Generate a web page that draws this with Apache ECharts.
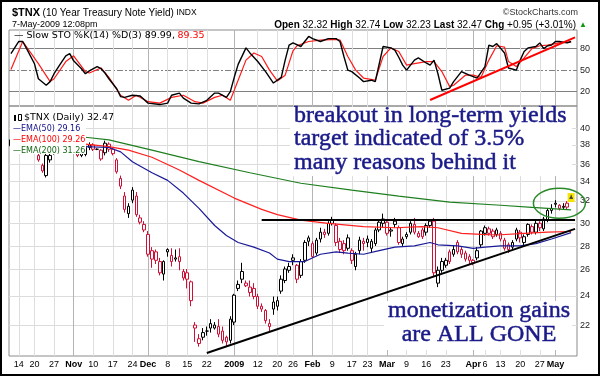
<!DOCTYPE html>
<html>
<head>
<meta charset="utf-8">
<script src="https://cdn.jsdelivr.net/npm/echarts@6.0.0/dist/echarts.min.js"></script>
<style>
html, body { margin: 0; padding: 0; background: #fff; }
#chart { width: 600px; height: 376px; }
</style>
</head>
<body>
<div id="chart"></div>
<script>
// trading days shown on the chart
var dates = [
  '2008-10-10','2008-10-13','2008-10-14','2008-10-15','2008-10-16','2008-10-17','2008-10-20','2008-10-21','2008-10-22','2008-10-23','2008-10-24','2008-10-27','2008-10-28','2008-10-29','2008-10-30','2008-10-31',
  '2008-11-03','2008-11-04','2008-11-05','2008-11-06','2008-11-07','2008-11-10','2008-11-11','2008-11-12','2008-11-13','2008-11-14','2008-11-17','2008-11-18','2008-11-19','2008-11-20','2008-11-21','2008-11-24','2008-11-25','2008-11-26','2008-11-28',
  '2008-12-01','2008-12-02','2008-12-03','2008-12-04','2008-12-05','2008-12-08','2008-12-09','2008-12-10','2008-12-11','2008-12-12','2008-12-15','2008-12-16','2008-12-17','2008-12-18','2008-12-19','2008-12-22','2008-12-23','2008-12-24','2008-12-26','2008-12-29','2008-12-30','2008-12-31',
  '2009-01-02','2009-01-05','2009-01-06','2009-01-07','2009-01-08','2009-01-09','2009-01-12','2009-01-13','2009-01-14','2009-01-15','2009-01-16','2009-01-20','2009-01-21','2009-01-22','2009-01-23','2009-01-26','2009-01-27','2009-01-28','2009-01-29','2009-01-30',
  '2009-02-02','2009-02-03','2009-02-04','2009-02-05','2009-02-06','2009-02-09','2009-02-10','2009-02-11','2009-02-12','2009-02-13','2009-02-17','2009-02-18','2009-02-19','2009-02-20','2009-02-23','2009-02-24','2009-02-25','2009-02-26','2009-02-27',
  '2009-03-02','2009-03-03','2009-03-04','2009-03-05','2009-03-06','2009-03-09','2009-03-10','2009-03-11','2009-03-12','2009-03-13','2009-03-16','2009-03-17','2009-03-18','2009-03-19','2009-03-20','2009-03-23','2009-03-24','2009-03-25','2009-03-26','2009-03-27','2009-03-30','2009-03-31',
  '2009-04-01','2009-04-02','2009-04-03','2009-04-06','2009-04-07','2009-04-08','2009-04-09','2009-04-13','2009-04-14','2009-04-15','2009-04-16','2009-04-17','2009-04-20','2009-04-21','2009-04-22','2009-04-23','2009-04-24','2009-04-27','2009-04-28','2009-04-29','2009-04-30',
  '2009-05-01','2009-05-04','2009-05-05','2009-05-06','2009-05-07'
];

// [open, close, low, high], one per day
var ohlc = [
  [38.0,38.7,37.4,39.2],[38.7,38.7,38.6,38.8],[39.2,40.3,39.0,40.8],[40.3,39.7,39.2,40.5],[39.5,39.9,38.8,40.2],[39.9,39.2,38.9,40.1],
  [38.9,37.4,37.2,39.1],[36.9,36.4,36.2,37.3],[35.8,35.2,35.0,36.0],[34.7,36.9,34.5,37.1],[36.4,36.9,36.1,37.4],[37.3,37.8,37.0,38.2],
  [37.8,38.8,37.6,39.0],[38.8,39.3,38.5,39.7],[39.3,39.7,39.0,40.1],[39.8,39.4,39.1,40.0],
  [39.4,38.9,38.5,39.6],[37.4,36.9,36.7,37.8],[36.9,37.5,36.7,37.8],[37.0,37.8,36.8,38.1],[37.8,38.1,37.5,38.4],[38.1,37.6,37.4,38.3],
  [37.6,37.6,37.5,37.7],[37.5,36.5,36.3,37.6],[37.2,38.3,36.9,38.6],[38.2,37.6,37.3,38.4],[37.6,37.1,36.9,37.8],[36.4,35.1,34.9,36.6],
  [34.4,33.6,33.3,34.7],[32.6,31.3,31.0,33.0],[30.9,31.6,30.5,31.9],[32.2,33.2,31.9,33.5],[32.6,30.8,30.6,33.0],[30.5,30.1,29.9,30.8],
  [29.9,29.4,29.2,30.2],
  [29.0,27.3,27.1,29.3],[27.6,26.9,26.2,27.9],[27.5,26.8,26.5,27.7],[26.7,25.8,25.6,27.0],[25.7,26.7,25.2,26.8],[27.7,27.5,27.1,27.8],
  [27.2,26.7,26.3,27.8],[27.0,26.9,26.7,27.7],[27.1,26.7,26.0,27.8],[25.4,25.9,25.2,26.1],[25.8,25.3,24.6,26.1],[25.1,23.7,23.3,25.2],
  [21.8,22.0,20.9,22.2],[21.1,20.8,20.6,21.4],[21.2,21.5,21.0,21.8],[21.6,21.6,21.3,21.9],[22.1,21.8,21.5,22.4],[21.8,22.0,21.7,22.2],
  [21.9,21.4,21.2,22.4],[21.6,21.0,20.8,21.9],[21.2,20.9,20.6,21.3],[21.0,22.4,20.8,22.6],
  [22.2,24.1,22.0,24.2],[24.6,24.9,24.4,25.2],[25.9,25.3,25.0,26.6],[24.8,25.0,24.7,25.2],[24.7,24.3,24.0,25.2],[24.6,24.0,23.8,25.0],
  [24.0,23.3,23.1,24.2],[23.3,23.1,22.9,23.5],[23.0,22.3,22.1,23.1],[21.9,22.1,21.6,22.4],[23.6,23.1,22.7,24.0],[23.3,23.7,23.0,24.0],
  [24.4,25.3,24.2,25.6],[25.2,26.1,25.0,26.3],[26.0,26.3,25.8,26.6],[27.0,26.8,26.4,27.3],[26.4,25.3,25.0,26.5],[25.6,26.7,25.4,26.9],
  [26.8,28.3,26.6,28.5],[28.7,28.4,28.0,28.9],
  [28.2,27.1,27.0,28.4],[27.4,28.5,27.2,28.7],[28.6,29.2,28.3,29.6],[29.2,29.0,28.7,29.5],[29.1,30.0,28.9,30.2],[30.0,30.3,29.8,30.6],
  [29.8,28.3,28.0,30.0],[28.4,27.7,27.4,28.7],[28.2,27.6,27.3,28.5],[27.8,28.7,27.6,29.0],[27.6,26.8,26.5,27.8],[26.3,27.3,26.0,27.5],
  [27.6,28.5,27.3,28.8],[28.4,28.2,27.6,28.7],[28.6,28.3,27.9,28.9],[27.8,28.4,27.4,28.6],[28.2,29.4,28.0,29.6],[29.4,30.1,29.2,30.4],
  [30.0,30.4,29.6,30.9],
  [30.1,29.1,28.9,30.2],[29.4,29.3,28.8,29.6],[29.9,30.2,29.6,30.5],[29.6,28.3,28.1,29.8],[28.2,28.6,28.0,28.8],[28.8,29.0,28.6,29.2],
  [29.2,30.0,29.0,30.2],[29.9,29.2,29.0,30.5],[28.8,29.1,28.7,29.3],[29.4,28.8,28.6,29.6],[29.2,29.8,28.9,30.0],[29.8,30.2,29.6,30.4],
  [30.2,25.8,25.5,30.5],[25.0,26.0,24.7,26.3],[26.0,26.7,25.8,27.0],[26.4,26.8,26.2,27.0],[27.5,26.7,26.5,27.7],[27.3,27.7,27.1,28.0],
  [28.3,27.5,27.3,28.5],[27.7,27.3,27.0,27.9],[27.4,26.9,26.7,27.6],[27.1,26.8,26.5,27.3],
  [26.8,26.6,26.4,26.9],[27.0,27.6,26.8,27.9],[28.1,29.3,27.9,29.4],[29.1,29.6,28.9,29.8],[29.5,29.1,28.9,29.7],[29.3,28.8,28.6,29.5],
  [29.0,29.4,28.8,29.6],[29.1,28.6,28.4,29.3],[28.5,27.8,27.6,28.7],[28.1,27.7,27.4,28.3],[27.9,28.3,27.7,28.5],[28.6,29.4,28.4,29.6],
  [29.2,28.7,28.3,29.4],[28.3,28.8,28.0,29.0],[29.0,29.9,28.8,30.0],[29.7,29.2,29.0,29.9],[29.2,30.0,29.0,30.3],[30.0,29.6,29.3,30.2],
  [29.5,30.4,29.3,30.6],[30.3,31.2,30.1,31.4],[31.2,31.4,30.9,31.8],
  [31.9,31.8,31.5,32.2],[31.7,31.4,31.2,31.8],[31.5,31.6,31.3,31.9],[31.9,31.52,31.3,32.1],[32.32,32.47,32.23,32.74]
];

// moving averages: [day index, value]
var ema50 = [[19,37.9],[25,37.8],[28,37.3],[31,36.2],[36,35.0],[40,34.2],[44,32.9],[48,31.4],[52,29.8],[55,28.9],[58,28.3],
  [62,27.9],[66,27.4],[68,26.9],[71,26.7],[75,26.7],[79,27.3],[83,27.5],[86,27.4],[90,27.3],[94,27.6],[98,27.9],[103,28.0],
  [107,28.3],[109,28.1],[114,28.0],[118,27.8],[121,27.9],[125,28.0],[130,28.0],[134,28.2],[138,28.6],[143,29.16]];
var ema100 = [[19,38.2],[25,37.9],[30,37.5],[36,36.7],[43,35.3],[48,34.2],[57,32.4],[64,31.3],[68,30.8],[74,30.3],[81,30.0],
  [90,29.7],[98,29.6],[105,29.7],[109,29.6],[115,29.1],[120,29.0],[124,28.95],[131,29.1],[137,29.2],[143,29.26]];
var ema200 = [[19,39.0],[25,38.7],[36,37.5],[48,36.2],[61,35.0],[74,33.9],[87,33.2],[99,32.6],[112,32.0],[125,31.7],[133,31.5],[143,31.26]];

// slow stochastics
var stoK = [[0,73],[2,90],[3,90],[4,80],[6,59],[7,38],[9,29],[10,34],[11,45],[13,62],[14,70],[15,73],[16,63],[18,52],[19,45],
  [20,49],[22,55],[23,52],[24,46],[25,38],[27,24],[28,13],[29,12],[31,15],[33,14],[35,4],[38,2],[40,4],[41,15],[43,18],[44,11],
  [46,4],[48,3],[50,8],[52,18],[53,18],[55,12],[56,20],[57,40],[58,58],[60,81],[61,74],[63,62],[65,48],[67,32],[69,40],[70,64],
  [71,85],[72,88],[74,83],[76,97],[77,94],[79,90],[81,94],[83,94],[84,90],[85,69],[86,50],[87,48],[89,39],[90,34],[92,36],[93,34],
  [95,83],[97,81],[98,78],[99,68],[100,57],[101,50],[103,64],[104,67],[106,60],[107,57],[108,64],[109,45],[110,22],[112,25],
  [113,34],[115,48],[117,43],[119,39],[121,55],[122,85],[123,83],[124,87],[126,74],[127,53],[129,50],[130,64],[131,76],[132,81],
  [134,83],[135,88],[136,80],[137,84],[138,85],[139,90],[140,90],[141,89],[142,88],[143,89.99]];
var stoD = [[0,51],[3,90],[7,59],[10,34],[11,38],[14,62],[16,70],[19,48],[20,46],[23,53],[25,40],[28,15],[30,8],[32,15],[35,6],
  [38,4],[41,12],[44,15],[47,6],[49,4],[52,12],[54,15],[56,8],[57,22],[60,64],[62,74],[64,69],[66,50],[68,35],[70,43],[72,77],
  [73,84],[76,90],[79,92],[83,93],[84,92],[86,69],[88,50],[90,39],[93,36],[95,69],[97,81],[99,76],[101,57],[103,59],[106,62],
  [108,62],[110,48],[112,27],[113,29],[116,43],[118,43],[120,40],[122,64],[124,84],[126,82],[127,62],[129,55],[131,67],[133,80],
  [135,84],[137,85],[140,88],[143,89.35]];

// axis ticks
var priceTicks = [22, 24, 26, 28, 30, 32, 34, 36, 38, 40];
var stoTicks = [20, 50, 80];
var tickDates = ['2008-10-14','2008-10-20','2008-10-27','2008-11-03','2008-11-10','2008-11-17','2008-11-24','2008-12-01','2008-12-08',
  '2008-12-15','2008-12-22','2009-01-02','2009-01-12','2009-01-20','2009-01-26','2009-02-02','2009-02-09','2009-02-17','2009-02-23',
  '2009-03-02','2009-03-09','2009-03-16','2009-03-23','2009-04-01','2009-04-06','2009-04-13','2009-04-20','2009-04-27','2009-05-01'];
var tickText = ['14','20','27','Nov','10','17','24','Dec','8','15','22','2009','12','20','26','Feb','9','17','23','Mar','9','16','23',
  'Apr','6','13','20','27','May'];

var RED = '#cc1036';
var SANS = '"Liberation Sans", Arial, sans-serif';
var VSANS = '"DejaVu Sans", Verdana, sans-serif';
var SERIF = '"Liberation Serif", "Times New Roman", serif';
var PMIN = 20.02, PMAX = 42.9;

var cats = dates.concat(['']);
var labelOf = {};
tickDates.forEach(function (d, k) { labelOf[d] = tickText[k]; });
function isMonth(t) { return !/^\d{1,2}$/.test(t); }

var candles = ohlc.map(function (d, i) {
  var prev = i > 0 ? ohlc[i - 1][1] : d[0];
  var c = d[1] >= prev ? '#000' : RED;
  return {
    value: [Math.log(d[0]), Math.log(d[1]), Math.log(d[2]), Math.log(d[3])],
    itemStyle: { color: '#fff', color0: c, borderColor: c, borderColor0: c, borderWidth: 1 }
  };
});
function logPts(arr) { return arr.map(function (p) { return [p[0], Math.log(p[1])]; }); }

var vLines = tickDates.map(function (d, k) {
  return { xAxis: dates.indexOf(d), label: { show: false },
    lineStyle: { color: isMonth(tickText[k]) ? '#b4b4b4' : '#dedede', width: 1, type: 'solid' } };
});
var yLab = { show: true, position: 'end', distance: 3, formatter: '{b}', color: '#222', fontSize: 9, fontFamily: SANS };
var priceGrid = priceTicks.map(function (v) {
  return { yAxis: Math.log(v), name: String(v), label: yLab, lineStyle: { color: '#dcdcdc', width: 1, type: 'solid' } };
}).concat(vLines);
var stoGrid = stoTicks.map(function (v) {
  return { yAxis: v, name: String(v), label: yLab,
    lineStyle: { color: '#808080', width: 1, type: v === 50 ? [6, 2, 2, 2] : 'solid' } };
}).concat(vLines);

var chart = echarts.init(document.getElementById('chart'));

var xBase = {
  type: 'category', data: cats, boundaryGap: true,
  axisLine: { show: false }, axisTick: { show: false }, splitLine: { show: false }
};

chart.setOption({
  animation: false,
  backgroundColor: '#fff',
  grid: [
    { left: 9, right: 23, top: 30, height: 76, show: true, borderColor: '#8c8c8c', borderWidth: 1, outerBoundsMode: 'none' },
    { left: 9, right: 23, top: 106, height: 250, show: true, borderColor: '#8c8c8c', borderWidth: 1, outerBoundsMode: 'none' }
  ],
  xAxis: [
    Object.assign({ gridIndex: 0, axisLabel: { show: false } }, xBase),
    Object.assign({ gridIndex: 1, axisLabel: {
      show: true, margin: 4, fontSize: 9, fontFamily: SANS, color: '#000',
      interval: function (i, v) { return labelOf[v] !== undefined; },
      formatter: function (v) { var t = labelOf[v]; if (t === undefined) return ''; return isMonth(t) ? '{b|' + t + '}' : t; },
      rich: { b: { fontWeight: 'bold', fontSize: 9, fontFamily: SANS, color: '#000' } }
    } }, xBase)
  ],
  yAxis: [
    { type: 'value', gridIndex: 0, min: 0, max: 106, show: false },
    { type: 'value', gridIndex: 1, min: Math.log(PMIN), max: Math.log(PMAX), show: false }
  ],
  series: [
    {
      type: 'line', name: '%D', xAxisIndex: 0, yAxisIndex: 0, data: stoD, symbol: 'none',
      lineStyle: { color: '#ff1a1a', width: 1.2 },
      markLine: { silent: true, symbol: 'none', z: 1, animation: false, data: stoGrid }
    },
    {
      type: 'line', name: '%K', xAxisIndex: 0, yAxisIndex: 0, data: stoK, symbol: 'none',
      lineStyle: { color: '#000', width: 1.4 },
      markLine: { silent: true, symbol: 'none', animation: false, label: { show: false },
        lineStyle: { color: '#ff0000', width: 2, type: 'solid' },
        data: [[{ coord: [107, 8.4] }, { coord: [144, 95.7] }]] }
    },
    {
      type: 'line', name: 'EMA200', xAxisIndex: 1, yAxisIndex: 1, data: logPts(ema200), symbol: 'none',
      lineStyle: { color: '#1f7f1f', width: 1.2 },
      markLine: { silent: true, symbol: 'none', z: 1, animation: false, data: priceGrid }
    },
    {
      type: 'line', name: 'EMA100', xAxisIndex: 1, yAxisIndex: 1, data: logPts(ema100), symbol: 'none',
      lineStyle: { color: '#ff2020', width: 1.2 }
    },
    {
      type: 'line', name: 'EMA50', xAxisIndex: 1, yAxisIndex: 1, data: logPts(ema50), symbol: 'none',
      lineStyle: { color: '#1a1a99', width: 1.2 }
    },
    {
      type: 'candlestick', name: '$TNX', xAxisIndex: 1, yAxisIndex: 1, data: candles, barWidth: 3,
      markLine: { silent: true, symbol: 'none', animation: false, label: { show: false },
        lineStyle: { color: '#000', width: 2, type: 'solid' },
        data: [
          [{ coord: [50, Math.log(20.2)] }, { coord: [144, Math.log(29.5)] }],
          [{ coord: [64, Math.log(30.3)] }, { coord: [144, Math.log(30.3)] }]
        ] },
      markPoint: { silent: true, animation: false, symbol: 'rect', symbolSize: [7, 9],
        itemStyle: { color: '#f4e400' },
        label: { show: true, formatter: '\u265F', fontSize: 6, color: '#444', fontFamily: VSANS },
        data: [{ coord: [143, Math.log(32.45)] }] }
    }
  ]
});

// annotation ring around the breakout
var ring = chart.convertToPixel({ gridIndex: 1 }, [140, Math.log(31.9)]);

function txt(x, y, text, o) {
  return { type: 'text', z: 100, style: Object.assign({ x: x, y: y, text: text, fontSize: 9, fontFamily: SANS,
    fill: '#000', align: 'left', verticalAlign: 'middle' }, o || {}) };
}
function box(x, y, w, h) {
  return { type: 'rect', z: 90, shape: { x: x, y: y, width: w, height: h }, style: { fill: '#fff' } };
}
var NAVY = '#1a1a88';
var note = { fontSize: 24, fontFamily: SERIF, fill: NAVY, stroke: NAVY, lineWidth: 0.5 };

chart.setOption({
  graphic: { elements: [
    { type: 'rect', z: 100, shape: { x: 1, y: 1, width: 598, height: 374 }, style: { fill: 'none', stroke: '#000', lineWidth: 2 } },
    txt(12, 13, '{a|$TNX} {b|(10 Year Treasury Note Yield)} {c|INDX}', { rich: {
      a: { fontWeight: 'bold', fontSize: 11, fontFamily: SANS, fill: '#000' },
      b: { fontSize: 10, fontFamily: SANS, fill: '#000' },
      c: { fontSize: 8.5, fontFamily: SANS, fill: '#000' } } }),
    txt(12, 25, '7-May-2009 12:08pm'),
    txt(578, 13, '\u00A9StockCharts.com', { align: 'right', fill: '#333' }),
    txt(576, 25, '{b|Open} 32.32 {b|High} 32.74 {b|Low} 32.23 {b|Last} 32.47 {b|Chg} +0.95 (+3.01%)', {
      align: 'right', fontSize: 10, rich: { b: { fontWeight: 'bold', fontSize: 10, fontFamily: SANS, fill: '#000' } } }),
    txt(579, 25, '\u25B2', { fontSize: 8, fill: '#119911' }),
    txt(14, 36, '{k|\u2014 Slow STO %K(14) %D(3) 89.99,} {d|89.35}', { rich: {
      k: { fontSize: 9.5, fontFamily: VSANS, fill: '#000' },
      d: { fontSize: 9.5, fontFamily: VSANS, fill: '#ff0000' } } }),
    // price legend
    box(10, 107, 76, 47),
    { type: 'rect', z: 100, shape: { x: 14, y: 115, width: 2, height: 6 }, style: { fill: '#000' } },
    { type: 'rect', z: 100, shape: { x: 18.5, y: 114.5, width: 3, height: 6 }, style: { fill: '#fff', stroke: '#000', lineWidth: 1 } },
    txt(24, 118, '$TNX (Daily) 32.47', { fontSize: 9.5, fontFamily: VSANS }),
    txt(13, 129, '\u2014EMA(50) 29.16', { fontSize: 8, fontFamily: VSANS, fill: '#10108a' }),
    txt(13, 140, '\u2014EMA(100) 29.26', { fontSize: 8, fontFamily: VSANS, fill: '#ff0000' }),
    txt(13, 151, '\u2014EMA(200) 31.26', { fontSize: 8, fontFamily: VSANS, fill: '#116611' }),
    // commentary
    box(290, 107, 282, 69),
    txt(294, 115.5, 'breakout in long-term yields', note),
    txt(294, 139, 'target indicated of 3.5%', note),
    txt(294, 162.5, 'many reasons behind it', note),
    box(384, 301, 188, 49),
    txt(479, 311, 'monetization gains', Object.assign({ align: 'center' }, note)),
    txt(479, 335, 'are ALL GONE', Object.assign({ align: 'center' }, note)),
    { type: 'ellipse', z: 100, shape: { cx: ring[0], cy: ring[1], rx: 26, ry: 15 },
      style: { fill: 'none', stroke: '#2a8a2a', lineWidth: 1.5 } }
  ] }
});
</script>
</body>
</html>
